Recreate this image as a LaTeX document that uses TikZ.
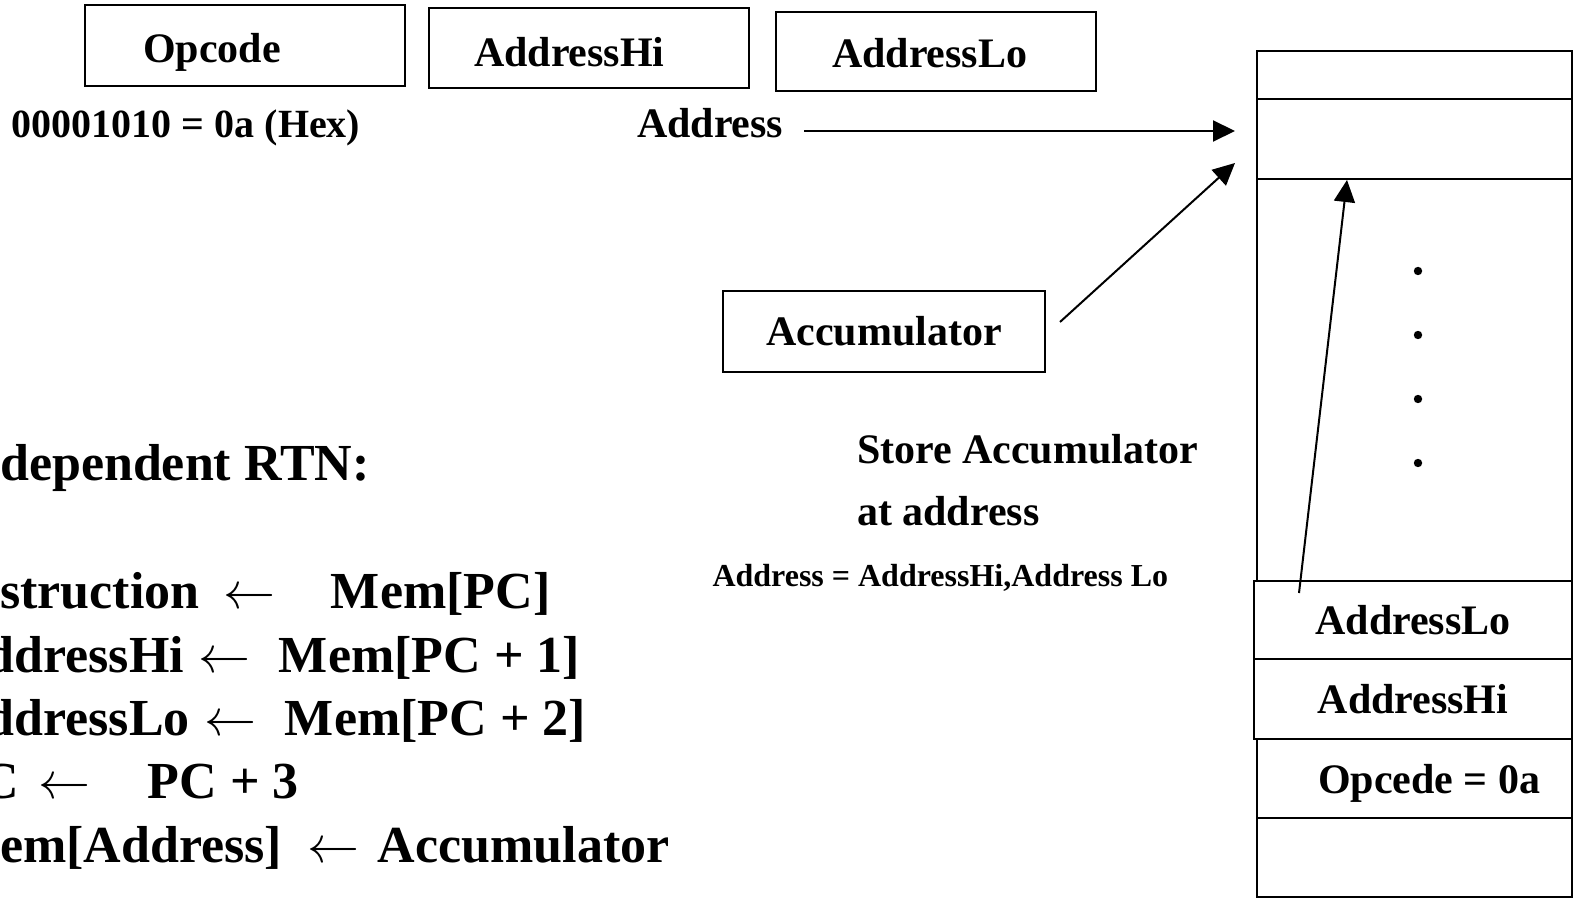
\RequirePackage{fix-cm}
\documentclass[tikz,border=0pt]{standalone}
\usepackage{fontspec}
\setmainfont{Liberation Serif}
\usetikzlibrary{arrows.meta}

\newcommand{\rtnarrow}{\ensuremath{\leftarrow}}

\begin{document}
\begin{tikzpicture}[x=1pt,y=-1pt,
  every node/.style={inner sep=0pt, outer sep=0pt},
  field/.style={draw, line width=2.2pt, minimum width=320pt, minimum height=80pt},
  memcell/.style={draw, line width=2pt, minimum width=315pt},
  txt/.style={anchor=base west, font={\fontsize{#1}{#1}\selectfont\bfseries}},
  txt/.default=42,
  boxtext/.style={font={\fontsize{42}{42}\selectfont\bfseries}},
  link/.style={line width=2pt, -{Triangle[length=22pt,width=21pt]}},
]
\useasboundingbox (0,0) rectangle (1575,901);
\clip (0,0) rectangle (1575,901);

% instruction fields
\node[field, minimum height=81pt] (opbox) at (245,45.5) {};
\node[field] (hibox) at (589,48) {};
\node[field, minimum height=79pt] (lobox) at (936,51.5) {};
\node[txt] (optext) at (143,63) {Opcode};
\node[txt] (hitext) at (474,67) {AddressHi};
\node[txt] (lotext) at (832,68) {AddressLo};

\node[txt=40] (hex) at (12,138) {00001010 = 0a (Hex)};
\node[txt] (addr) at (637,138) {Address};

% accumulator
\node[field, minimum width=322pt, minimum height=81pt, boxtext] (acc) at (884,331.5) {Accumulator};

\node[txt] (store1) at (857,463) {Store Accumulator};
\node[txt] (store2) at (857,525) {at address};
\node[txt=32] (addreq) at (712.5,586) {Address = AddressHi,Address Lo};

% memory column
\node[memcell, minimum height=48pt] (mtop) at (1414.5,75) {};
\node[memcell, minimum height=80pt] (mtarget) at (1414.5,139) {};
\node[memcell, minimum height=402pt] (mgap) at (1414.5,380) {};
\node[memcell, minimum width=318pt, minimum height=78pt, line width=2.4pt, boxtext] (mlo) at (1413,620) {AddressLo};
\node[memcell, minimum width=318pt, minimum height=80pt, line width=2.4pt, boxtext] (mhi) at (1413,699) {AddressHi};
\node[memcell, minimum height=79pt] (mop) at (1414.5,778.5) {};
\node[memcell, minimum height=79pt] (mbot) at (1414.5,857.5) {};
\node[txt] (optval) at (1318,793) {Opcede = 0a};

\foreach \y in {271,335,399,463} \fill (1418,\y) circle (4.2pt);

% connectors
\coordinate (addrfrom) at (804,131);
\coordinate (addrto) at (1235,131);
\coordinate (accfrom) at (1060,322);
\coordinate (accto) at (1235,163);
\coordinate (lofrom) at (1299,593);
\coordinate (loto) at (1347,180);
\draw[link] (addrfrom) -- (addrto);
\draw[link] (accfrom) -- (accto);
\draw[link] (lofrom) -- (loto);

% register transfer notation
\node[txt=52] (rtnhead) at (-49,480) {Independent RTN:};
\node[txt=52] (rtn1) at (-49,608) {\makebox[273pt][l]{Instruction}\makebox[107pt][l]{\rtnarrow}Mem[PC]};
\node[txt=52] (rtn2) at (-52,672) {\makebox[251pt][l]{AddressHi}\makebox[80pt][l]{\rtnarrow}Mem[PC + 1]};
\node[txt=52] (rtn3) at (-52,735) {\makebox[257pt][l]{AddressLo}\makebox[80pt][l]{\rtnarrow}Mem[PC + 2]};
\node[txt=52] (rtn4) at (-50,798) {\makebox[89pt][l]{PC}\makebox[109pt][l]{\rtnarrow}PC + 3};
\node[txt=52] (rtn5) at (-49,862) {\makebox[357pt][l]{Mem[Address]}\makebox[70pt][l]{\rtnarrow}Accumulator};
\end{tikzpicture}
\end{document}
